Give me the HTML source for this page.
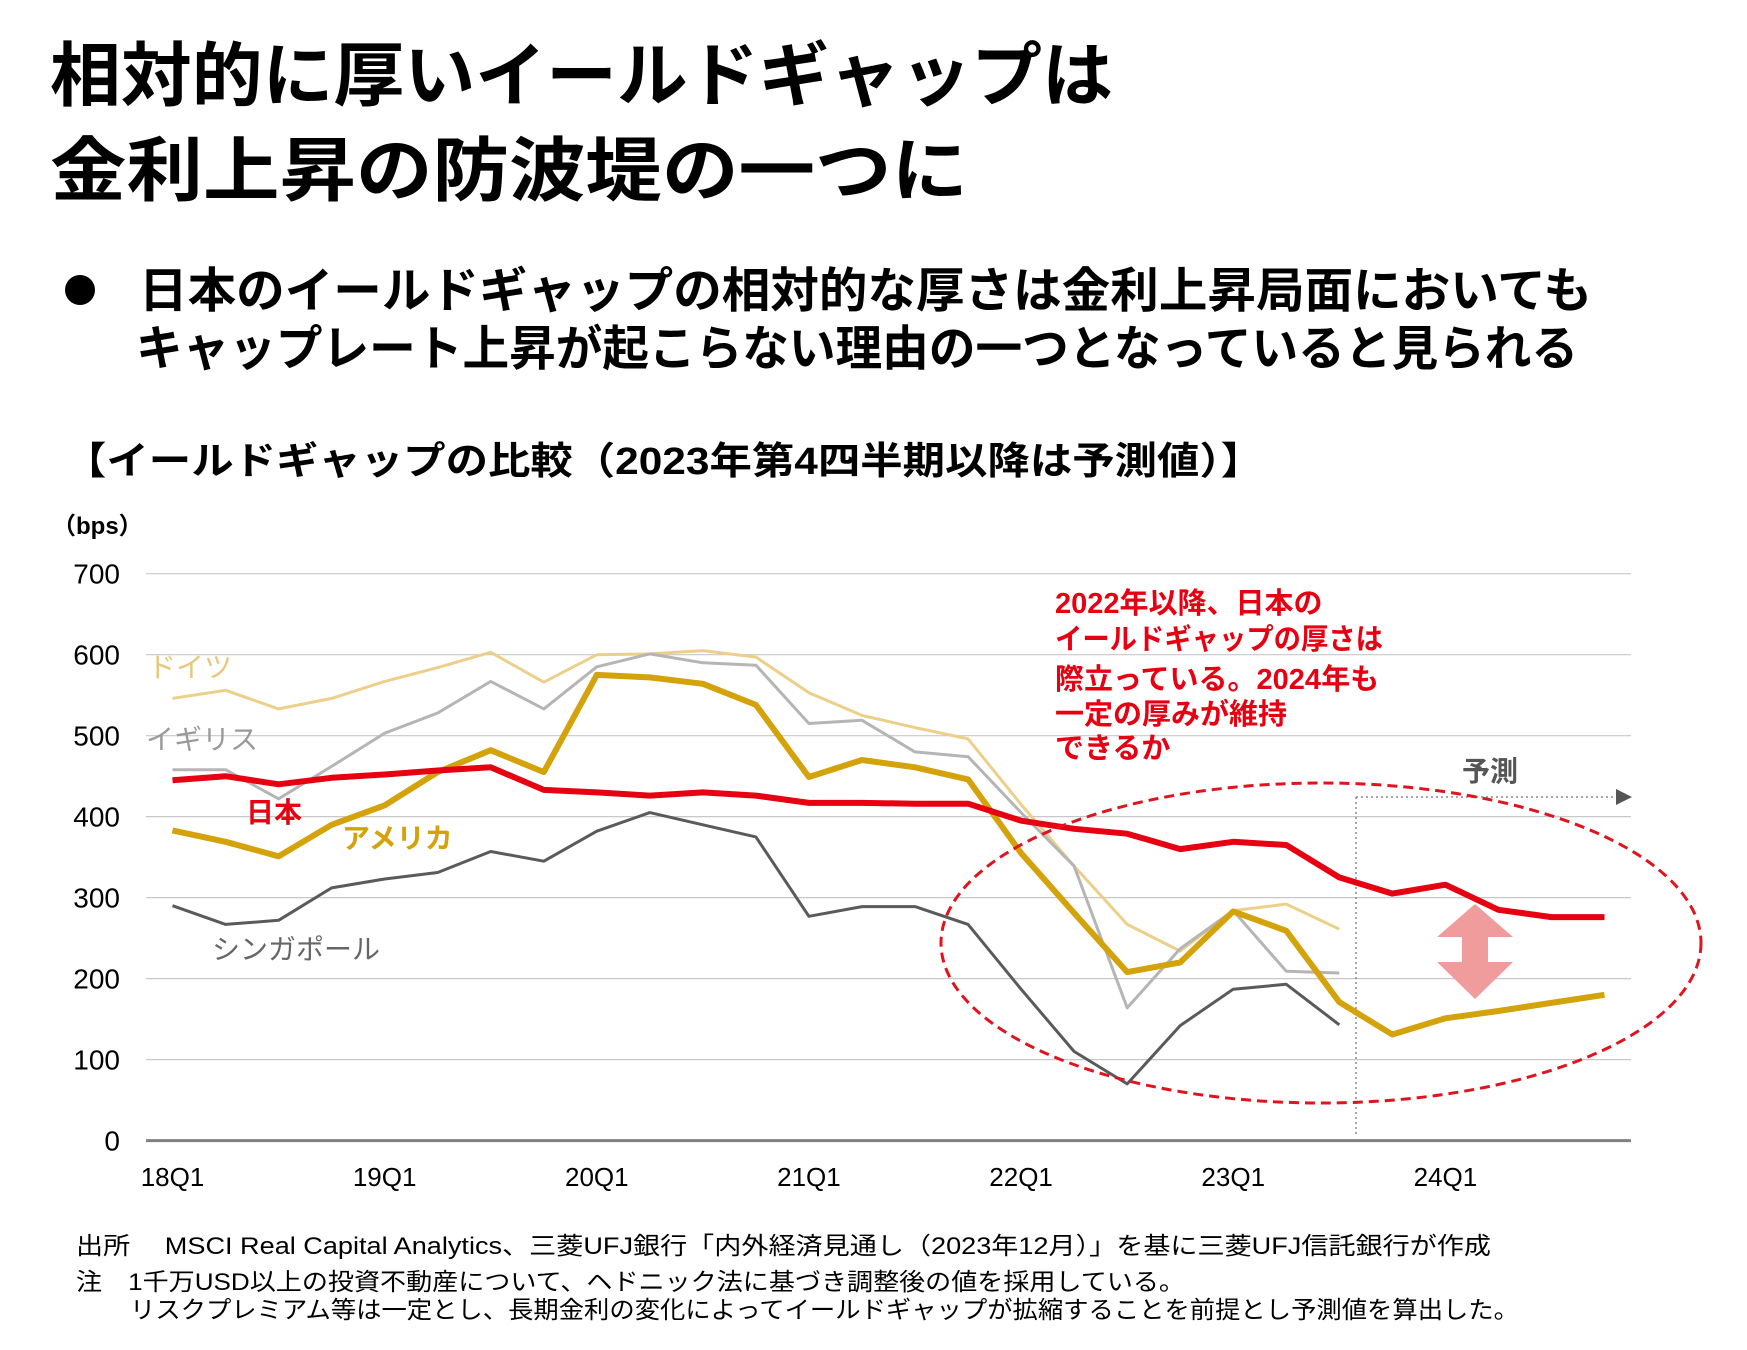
<!DOCTYPE html>
<html lang="ja"><head><meta charset="utf-8">
<style>
html,body{margin:0;padding:0;background:#fff;}
svg{display:block;font-family:"Liberation Sans","Noto Sans CJK JP",sans-serif;}
</style></head>
<body>
<svg id="chart" width="1747" height="1350" viewBox="0 0 1747 1350">
  <g font-weight="bold" font-size="70" fill="#000">
    <text x="50" y="100" textLength="1063" lengthAdjust="spacingAndGlyphs">相対的に厚いイールドギャップは</text>
    <text x="50" y="195" textLength="918" lengthAdjust="spacingAndGlyphs">金利上昇の防波堤の一つに</text>
  </g>
  <g font-weight="bold" font-size="48" fill="#000">
    <circle cx="80" cy="290" r="15" fill="#000"></circle>
    <text x="139" y="307" textLength="1453" lengthAdjust="spacingAndGlyphs">日本のイールドギャップの相対的な厚さは金利上昇局面においても</text>
    <text x="136" y="365" textLength="1442" lengthAdjust="spacingAndGlyphs">キャップレート上昇が起こらない理由の一つとなっていると見られる</text>
  </g>
  <text x="64" y="474" font-size="38" font-weight="bold" fill="#000" textLength="1199" lengthAdjust="spacingAndGlyphs">【イールドギャップの比較（2023年第4四半期以降は予測値）】</text>
  <text x="52" y="534" font-size="24" font-weight="bold" fill="#000">（bps）</text>

  <g id="grid"></g>
  <g id="yticks" font-size="28" fill="#000" text-anchor="end"></g>
  <g id="xticks" font-size="26" fill="#000" text-anchor="middle"></g>

  <g>
    <line x1="1356" y1="797" x2="1356" y2="1136" stroke="#888" stroke-width="1.5" stroke-dasharray="2,3"></line>
    <line x1="1356" y1="797" x2="1618" y2="797" stroke="#888" stroke-width="1.5" stroke-dasharray="2,3"></line>
    <polygon points="1616,789 1632,797 1616,805" fill="#555"></polygon>
    <text x="1490" y="781" font-size="28" font-weight="bold" fill="#555" text-anchor="middle">予測</text>
  </g>

  <g id="series"></g>

  <ellipse cx="1321" cy="943" rx="380" ry="160" fill="none" stroke="#e0141e" stroke-width="3" stroke-dasharray="10,6"></ellipse>
  <polygon points="1475,904 1513,937 1488,937 1488,962 1513,962 1475,999 1437,962 1462,962 1462,937 1437,937" fill="#f19c9c"></polygon>

  <g font-size="28">
    <text x="148" y="677" fill="#e8c77a">ドイツ</text>
    <text x="146" y="749" fill="#999">イギリス</text>
    <text x="246" y="822" fill="#e60012" font-weight="bold">日本</text>
    <text x="342" y="848" fill="#d4a20a" font-weight="bold">アメリカ</text>
    <text x="212" y="959" fill="#666">シンガポール</text>
  </g>

  <g font-size="29" font-weight="bold" fill="#e60012">
    <text x="1055" y="613">2022年以降、日本の</text>
    <text x="1055" y="649" textLength="328" lengthAdjust="spacingAndGlyphs">イールドギャップの厚さは</text>
    <text x="1055" y="689">際立っている。2024年も</text>
    <text x="1055" y="724">一定の厚みが維持</text>
    <text x="1055" y="758">できるか</text>
  </g>

  <g font-size="24" fill="#000">
    <text x="76" y="1254" textLength="1415" lengthAdjust="spacingAndGlyphs">出所　 MSCI Real Capital Analytics、三菱UFJ銀行「内外経済見通し（2023年12月）」を基に三菱UFJ信託銀行が作成</text>
    <text x="76" y="1290" textLength="1109" lengthAdjust="spacingAndGlyphs">注　1千万USD以上の投資不動産について、ヘドニック法に基づき調整後の値を採用している。</text>
    <text x="130" y="1318" textLength="1389" lengthAdjust="spacingAndGlyphs">リスクプレミアム等は一定とし、長期金利の変化によってイールドギャップが拡縮することを前提とし予測値を算出した。</text>
  </g>
</svg>
<script>
const categories = ["18Q1","18Q2","18Q3","18Q4","19Q1","19Q2","19Q3","19Q4","20Q1","20Q2","20Q3","20Q4","21Q1","21Q2","21Q3","21Q4","22Q1","22Q2","22Q3","22Q4","23Q1","23Q2","23Q3","23Q4","24Q1","24Q2","24Q3","24Q4"];
const xTickLabels = ["18Q1","19Q1","20Q1","21Q1","22Q1","23Q1","24Q1"];
const yTicks = [0,100,200,300,400,500,600,700];
const japan = [445,450,440,448,452,457,461,433,430,426,430,426,417,417,416,416,395,385,379,360,369,365,325,305,316,285,276,276];
const usa = [383,369,351,390,414,455,482,455,575,572,564,538,449,470,461,446,355,281,208,220,283,259,171,131,151,160,170,180];
const germany = [546,556,533,546,567,584,603,566,600,601,605,597,553,525,510,496,415,339,267,234,284,292,261];
const uk = [458,458,422,462,503,528,567,533,585,601,590,587,515,519,480,474,405,339,164,237,284,209,207];
const singapore = [290,267,272,312,323,331,357,345,382,405,390,375,277,289,289,267,187,110,70,142,187,193,143];

const NS = "http://www.w3.org/2000/svg";
const plotLeft = 146, plotRight = 1631, yTop = 573.7, yZero = 1140.6, yMax = 700;
const band = (plotRight - plotLeft) / categories.length;
function xScale(i){ return plotLeft + (i + 0.5) * band; }
function yScale(v){ return yZero - (v / yMax) * (yZero - yTop); }
function mk(tag, attrs, parent){ const e = document.createElementNS(NS, tag); for (const k in attrs) e.setAttribute(k, attrs[k]); parent.appendChild(e); return e; }

const grid = document.getElementById('grid');
const yt = document.getElementById('yticks');
yTicks.forEach(v => {
  const y = yScale(v);
  const ln = mk('line', {x1: plotLeft, x2: plotRight, y1: y, y2: y, stroke: v === 0 ? '#808080' : '#c8c8c8', 'stroke-width': v === 0 ? 3 : 1.2}, grid);
  
  
  const t = mk('text', {x: 120, y: y + 10}, yt);
  t.textContent = v;
  
  
});
const xt = document.getElementById('xticks');
xTickLabels.forEach(lbl => {
  const i = categories.indexOf(lbl);
  const t = mk('text', {x: xScale(i), y: 1186}, xt);
  t.textContent = lbl;
  
  
});

const seriesG = document.getElementById('series');
function drawLine(vals, color, w, name){
  const d = vals.map((v, i) => (i ? 'L' : 'M') + xScale(i).toFixed(1) + ',' + yScale(v).toFixed(1)).join(' ');
  const p = mk('path', {d: d, fill: 'none', stroke: color, 'stroke-width': w, 'stroke-linejoin': 'round', 'stroke-linecap': 'butt'}, seriesG);
  
  
}
drawLine(germany, '#ecd08a', 3, 'line-germany');
drawLine(uk, '#b5b5b5', 3, 'line-uk');
drawLine(singapore, '#5a5a5a', 3, 'line-singapore');
drawLine(usa, '#d4a20a', 6, 'line-usa');
drawLine(japan, '#e60012', 6, 'line-japan');
</script>
</body></html>
